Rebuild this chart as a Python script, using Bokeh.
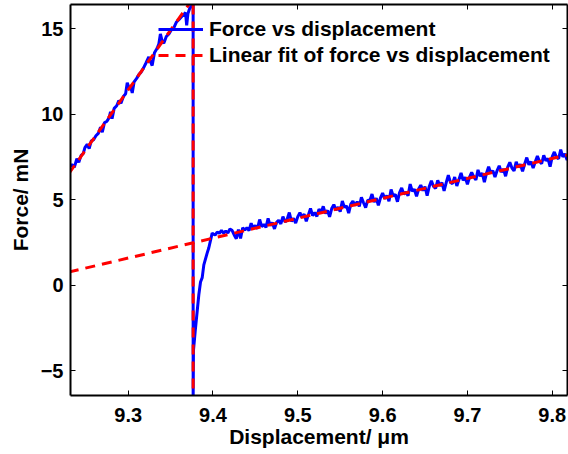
from bokeh.plotting import figure
from bokeh.models import (Range1d, LinearAxis, FixedTicker, CustomJSTickFormatter,
                          Legend, LegendItem)
from bokeh.embed import file_html
from bokeh.resources import INLINE

# Measured force (mN) against displacement (um): loading branch up to fracture
load_x = [9.230, 9.2337, 9.2365, 9.2395, 9.2418, 9.2445, 9.2470, 9.2490, 9.2517, 9.2540,
          9.2565, 9.2590, 9.2620, 9.2650, 9.2674, 9.2695, 9.2720, 9.2750, 9.2775, 9.2792,
          9.2810, 9.2835, 9.2865, 9.2890, 9.2915, 9.2945, 9.2970, 9.2989, 9.3010, 9.3030,
          9.3048, 9.3070, 9.3100, 9.3130, 9.3150, 9.3180, 9.3210, 9.3243, 9.3265, 9.3283,
          9.3310, 9.3340, 9.3361, 9.3380, 9.3400, 9.3420, 9.3450, 9.3480, 9.3510, 9.3538,
          9.3570, 9.3600, 9.3637, 9.3660, 9.3676, 9.3690, 9.3705, 9.3727, 9.3750, 9.3766]
load_y = [6.85, 7.06, 6.90, 7.40, 7.20, 7.60, 7.70, 8.05, 8.25, 8.00,
          8.45, 8.50, 8.75, 8.90, 9.25, 8.95, 9.50, 9.60, 9.80, 10.15,
          9.75, 10.35, 10.50, 10.80, 10.65, 11.05, 11.20, 11.85, 11.55, 11.60,
          11.25, 11.90, 12.10, 12.35, 12.45, 12.70, 13.00, 13.35, 13.05, 12.85,
          13.60, 13.85, 14.10, 14.70, 14.30, 14.15, 14.55, 14.70, 14.95, 15.05,
          15.40, 15.55, 15.75, 15.85, 15.95, 15.20, 15.90, 16.22, 16.35, 16.70]

# Drop after fracture and recovery of the contact force
rec_x = [9.3766, 9.3770, 9.3790, 9.3814, 9.3833, 9.3853, 9.3873, 9.3892, 9.3932,
         9.3951, 9.3979, 9.3990]
rec_y = [-6.90, -3.80, -2.70, -1.50, -0.55, 0.20, 0.45, 1.20, 1.90,
         2.20, 2.80, 3.05]

# Second loading branch
post_x = [9.4000, 9.4025, 9.4050, 9.4075, 9.4100, 9.4125, 9.4150, 9.4175, 9.4200, 9.4225,
          9.4250, 9.4275, 9.4300, 9.4325, 9.4350, 9.4375, 9.4400, 9.4425, 9.4450, 9.4475,
          9.4500, 9.4525, 9.4550, 9.4575, 9.4600, 9.4625, 9.4650, 9.4675, 9.4700, 9.4725,
          9.4750, 9.4775, 9.4800, 9.4825, 9.4850, 9.4875, 9.4900, 9.4925, 9.4950, 9.4975,
          9.5000, 9.5025, 9.5050, 9.5075, 9.5100, 9.5125, 9.5150, 9.5175, 9.5200, 9.5225,
          9.5250, 9.5275, 9.5300, 9.5325, 9.5350, 9.5375, 9.5400, 9.5425, 9.5450, 9.5475,
          9.5500, 9.5525, 9.5550, 9.5575, 9.5600, 9.5625, 9.5650, 9.5675, 9.5700, 9.5725,
          9.5750, 9.5775, 9.5800, 9.5825, 9.5850, 9.5875, 9.5900, 9.5925, 9.5950, 9.5975,
          9.6000, 9.6025, 9.6050, 9.6075, 9.6100, 9.6125, 9.6150, 9.6175, 9.6200, 9.6225,
          9.6250, 9.6275, 9.6300, 9.6325, 9.6350, 9.6375, 9.6400, 9.6425, 9.6450, 9.6475,
          9.6500, 9.6525, 9.6550, 9.6575, 9.6600, 9.6625, 9.6650, 9.6675, 9.6700, 9.6725,
          9.6750, 9.6775, 9.6800, 9.6825, 9.6850, 9.6875, 9.6900, 9.6925, 9.6950, 9.6975,
          9.7000, 9.7025, 9.7050, 9.7075, 9.7100, 9.7125, 9.7150, 9.7175, 9.7200, 9.7225,
          9.7250, 9.7275, 9.7300, 9.7325, 9.7350, 9.7375, 9.7400, 9.7425, 9.7450, 9.7475,
          9.7500, 9.7525, 9.7550, 9.7575, 9.7600, 9.7625, 9.7650, 9.7675, 9.7700, 9.7725,
          9.7750, 9.7775, 9.7800, 9.7825, 9.7850, 9.7875, 9.7900, 9.7925, 9.7950, 9.7975,
          9.8000, 9.8025, 9.8050, 9.8075, 9.8100, 9.8125, 9.8150, 9.8175, 9.8200]
post_y = [3.01, 2.94, 3.12, 3.04, 3.22, 3.05, 3.18, 3.06, 3.29, 3.22,
          2.95, 2.73, 3.26, 2.74, 3.37, 3.24, 3.37, 3.20, 3.63, 3.36,
          3.49, 3.32, 3.85, 3.43, 3.56, 3.39, 3.91, 3.49, 3.67, 3.30,
          3.68, 3.81, 3.59, 4.02, 3.70, 3.88, 4.26, 3.74, 3.91, 3.64,
          4.02, 4.25, 3.98, 4.16, 3.74, 4.12, 4.50, 4.08, 4.26, 4.03,
          4.46, 4.24, 4.62, 4.20, 4.38, 4.01, 4.49, 4.72, 4.40, 4.58,
          4.31, 4.93, 4.56, 4.64, 4.22, 4.75, 4.93, 4.66, 4.89, 4.62,
          5.15, 4.83, 4.55, 4.98, 4.96, 5.34, 4.87, 5.10, 4.68, 5.11,
          5.39, 5.07, 5.25, 4.92, 5.60, 5.23, 5.31, 4.89, 5.42, 5.70,
          5.33, 5.46, 5.24, 5.92, 5.50, 5.62, 5.20, 5.63, 5.86, 5.54,
          5.77, 5.25, 5.78, 6.11, 5.79, 5.67, 6.14, 5.82, 6.00, 5.53,
          6.01, 6.44, 6.02, 5.95, 6.33, 5.81, 6.19, 6.57, 6.14, 6.32,
          5.90, 6.33, 6.61, 6.34, 6.17, 6.75, 6.38, 6.56, 6.04, 6.56,
          6.94, 6.57, 6.70, 6.33, 6.71, 6.99, 6.62, 6.80, 6.38, 6.91,
          7.19, 6.86, 6.69, 7.22, 6.90, 7.08, 6.66, 7.09, 7.47, 7.05,
          7.23, 6.86, 7.23, 7.56, 7.24, 7.12, 7.60, 7.28, 7.41, 6.94,
          7.52, 7.80, 7.48, 7.40, 7.93, 7.51, 7.69, 7.32, 7.85]

# Linear fits: first branch (ending in the fracture drop) and second branch
fit_load_x = [9.230, 9.3766, 9.3766]
fit_load_y = [6.53, 16.78, -7.50]
fit_post_x = [9.230, 9.820]
fit_post_y = [0.78, 7.65]

x_ticks = [9.3, 9.4, 9.5, 9.6, 9.7, 9.8]
y_ticks = [-5, 0, 5, 10, 15]

force_x = load_x + rec_x + post_x
force_y = load_y + rec_y + post_y

FONT = "Liberation Sans"

p = figure(width=568, height=454, output_backend="svg", toolbar_location=None,
           x_range=Range1d(9.232, 9.818), y_range=Range1d(-6.44, 16.42),
           min_border_left=70, min_border_right=1, min_border_top=4, min_border_bottom=59,
           background_fill_color="white", border_fill_color="white")
p.outline_line_color = None
p.xgrid.grid_line_color = None
p.ygrid.grid_line_color = None

blue = p.line(force_x, force_y, line_color="#0000ff", line_width=3)
red = p.line(fit_load_x, fit_load_y, line_color="#ff0000", line_width=3, line_dash="10 7")
p.line(fit_post_x, fit_post_y, line_color="#ff0000", line_width=3, line_dash="10 7")

x_fmt = CustomJSTickFormatter(code="return tick.toFixed(1);")
y_fmt = CustomJSTickFormatter(code="return tick < 0 ? '\\u2212' + Math.abs(tick) : String(tick);")


def style_axis(ax, ticks, fmt, show_labels):
    ax.ticker = FixedTicker(ticks=ticks)
    ax.formatter = fmt
    ax.axis_line_color = "black"
    ax.axis_line_width = 2
    ax.major_tick_in = 5
    ax.major_tick_out = 0
    ax.major_tick_line_color = "black"
    ax.major_tick_line_width = 1
    ax.minor_tick_line_color = None
    ax.major_label_text_font = FONT
    ax.major_label_text_font_style = "bold"
    if show_labels:
        ax.major_label_text_font_size = "20px"
        ax.major_label_text_color = "black"
    else:
        # box edges: ticks only, no labels
        ax.major_label_text_font_size = "0px"
        ax.major_label_text_color = None
        ax.major_label_standoff = 0
    ax.axis_label_text_font = FONT
    ax.axis_label_text_font_style = "bold"
    ax.axis_label_text_font_size = "21px"
    ax.axis_label_text_color = "black"


xa = p.xaxis[0]
ya = p.yaxis[0]
style_axis(xa, x_ticks, x_fmt, True)
style_axis(ya, y_ticks, y_fmt, True)
xa.axis_label = "Displacement/ \u03bcm"
ya.axis_label = "Force/ mN"
xa.major_label_standoff = 12
ya.major_label_standoff = 7
xa.axis_label_standoff = 0
ya.axis_label_standoff = 6

top = LinearAxis()
style_axis(top, x_ticks, x_fmt, False)
p.add_layout(top, "above")
right = LinearAxis()
style_axis(right, y_ticks, y_fmt, False)
p.add_layout(right, "right")

legend = Legend(items=[LegendItem(label="Force vs displacement", renderers=[blue]),
                       LegendItem(label="Linear fit of force vs displacement", renderers=[red])],
                location=(88, 328), background_fill_alpha=0, border_line_color=None,
                padding=0, margin=0, spacing=2, glyph_width=45, glyph_height=24,
                label_height=24, label_standoff=6, label_text_font=FONT,
                label_text_font_style="bold", label_text_font_size="21px",
                label_text_color="black")
p.add_layout(legend)

open("out.html", "w").write(file_html(p, INLINE))
